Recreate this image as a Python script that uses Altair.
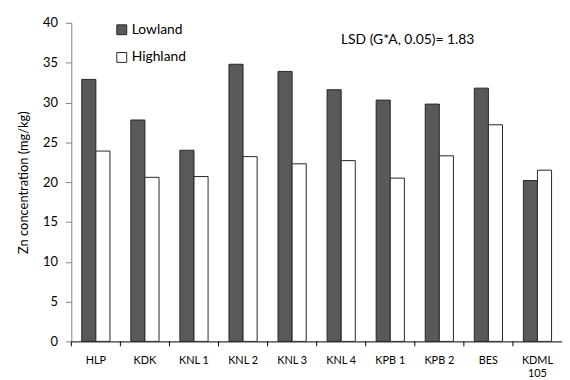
import altair as alt
import pandas as pd

cats = ["HLP", "KDK", "KNL 1", "KNL 2", "KNL 3", "KNL 4", "KPB 1", "KPB 2", "BES", "KDML 105"]
lowland = [32.9, 27.8, 24.0, 34.8, 33.9, 31.6, 30.3, 29.8, 31.8, 20.2]
highland = [23.9, 20.6, 20.7, 23.2, 22.3, 22.7, 20.5, 23.3, 27.2, 21.5]
series = ["Lowland", "Highland"]
colors = ["#595959", "#ffffff"]
y_ticks = [0, 5, 10, 15, 20, 25, 30, 35, 40]
annotation = "LSD (G*A, 0.05)= 1.83"

rows = []
for c, lo, hi in zip(cats, lowland, highland):
    rows.append({"cat": c, "series": "Lowland", "value": lo})
    rows.append({"cat": c, "series": "Highland", "value": hi})
df = pd.DataFrame(rows)

FONT = "Lato"
W, H = 496, 322

xscale = alt.Scale(domain=cats, paddingInner=0, paddingOuter=0)

bars = alt.Chart(df).mark_bar(stroke="#262626", strokeWidth=1).encode(
    x=alt.X("cat:N", scale=xscale, sort=cats,
            axis=alt.Axis(title=None, ticks=False, labelAngle=0, labelFontSize=11,
                          labelFont=FONT, labelColor="#000000", labelPadding=13,
                          domainColor="#000000", domainWidth=1,
                          labelExpr="datum.value == 'KDML 105' ? ['KDML', '105'] : datum.value")),
    xOffset=alt.XOffset("series:N", sort=series,
                        scale=alt.Scale(domain=series, paddingInner=0, paddingOuter=0.74)),
    y=alt.Y("value:Q", scale=alt.Scale(domain=[0, 40], nice=False),
            axis=alt.Axis(title="Zn concentration (mg/kg)", values=y_ticks, grid=False,
                          tickSize=6, tickColor="#868686", domainColor="#868686",
                          labelFontSize=13, labelFont=FONT, labelColor="#000000", labelPadding=8,
                          titleFont=FONT, titleFontSize=13, titleFontWeight="normal",
                          titleColor="#000000", titlePadding=12)),
    color=alt.Color("series:N", sort=series,
                    scale=alt.Scale(domain=series, range=colors),
                    legend=alt.Legend(title=None, orient="none", legendX=44, legendY=0,
                                      symbolType="square", symbolSize=100,
                                      symbolStrokeColor="#262626", symbolStrokeWidth=1,
                                      symbolOpacity=1, labelFont=FONT, labelFontSize=14,
                                      labelColor="#000000", rowPadding=14, labelOffset=3)),
)

tick_df = pd.DataFrame({"cat": cats})
xticks = alt.Chart(tick_df).mark_rule(color="#000000", strokeWidth=1).encode(
    x=alt.X("cat:N", scale=xscale, sort=cats, bandPosition=0),
    y=alt.value(H),
    y2=alt.value(H + 5),
)

text = alt.Chart(pd.DataFrame({"t": [annotation]})).mark_text(
    font=FONT, fontSize=14, color="#000000", align="center", baseline="middle"
).encode(x=alt.value(340), y=alt.value(17), text="t:N")

chart = alt.layer(bars, xticks, text).properties(
    width=W, height=H,
    autosize=alt.AutoSizeParams(type="none"),
    padding={"left": 64, "top": 13, "right": 0, "bottom": 36},
).configure_view(stroke=None).configure_axis(domainWidth=1)

chart.save("out.html", embed_options={"renderer": "svg", "actions": False})
